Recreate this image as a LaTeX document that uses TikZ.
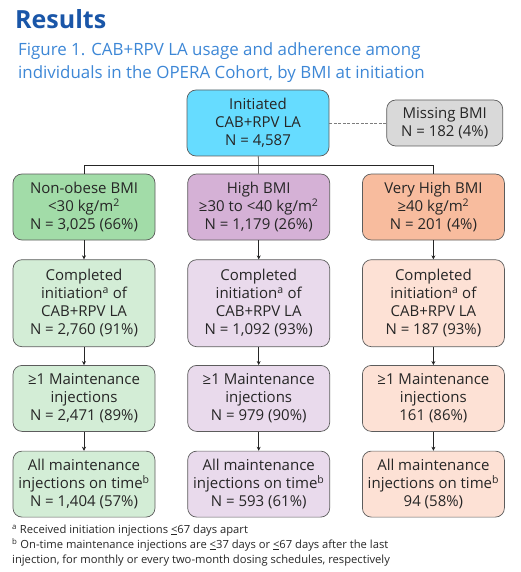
\documentclass[tikz,border=0pt]{standalone}
\usepackage{fontspec}
\setmainfont{Open Sans}
\usepackage{xcolor}
\usetikzlibrary{positioning,arrows.meta}
\definecolor{titleblue}{HTML}{1A56A8}
\definecolor{subblue}{HTML}{3D87D6}
\definecolor{cyanbox}{HTML}{66DCFF}
\definecolor{graybox}{HTML}{D9D9D9}
\definecolor{greendark}{HTML}{A2DCA8}
\definecolor{greenlight}{HTML}{D3EDD6}
\definecolor{purpledark}{HTML}{D5B1D6}
\definecolor{purplelight}{HTML}{E9DAEC}
\definecolor{orangedark}{HTML}{F8BC9E}
\definecolor{orangelight}{HTML}{FDE1D5}
\definecolor{boxline}{HTML}{5C5C5C}
\definecolor{textgray}{HTML}{262626}
\newcommand{\sq}{\textsuperscript{2}}
\newcommand{\fna}{\textsuperscript{a}}
\newcommand{\fnb}{\textsuperscript{b}}

\begin{document}
\begin{tikzpicture}[x=1pt, y=-1pt,
  font=\fontsize{15}{18}\selectfont, text=textgray,
  box/.style={draw=boxline, rounded corners=9pt, align=center, inner xsep=2pt, inner ysep=2pt, minimum width=142pt, minimum height=66pt, line width=0.7pt},
  arr/.style={-{Stealth[length=4pt,width=4pt]}, line width=0.6pt, draw=textgray},
  tree/.style={line width=0.6pt, draw=textgray},
  foot/.style={anchor=base west, inner sep=0pt, font=\fontsize{11.2}{14}\selectfont},
  node distance=19pt and 32pt]
\useasboundingbox (0,0) rectangle (520,572);
% heading
\node[anchor=base west, inner sep=0pt, text=titleblue, font=\fontsize{25}{30}\selectfont\bfseries] (title) at (15,29) {Results};
\node[anchor=base west, inner sep=0pt, text=subblue, font=\fontsize{16.9}{22}\selectfont] (sub1) at (18,56) {Figure 1. CAB+RPV LA usage and adherence among};
\node[anchor=base west, inner sep=0pt, text=subblue, font=\fontsize{16.9}{22}\selectfont] (sub2) at (18,79) {individuals in the OPERA Cohort, by BMI at initiation};
% top of the tree
\node[box, fill=cyanbox] (init) at (258,123) {Initiated\\CAB+RPV LA\\N = 4,587};
\node[box, fill=graybox, minimum width=116pt, minimum height=46pt, right=57pt of init] (missing) {Missing BMI\\N = 182 (4\%)};
% BMI groups
\node[box, fill=greendark] (nonobese) at (84,207) {Non-obese BMI\\<30 kg/m\sq\\N = 3,025 (66\%)};
\node[box, fill=purpledark, right=of nonobese] (high) {High BMI\\≥30 to <40 kg/m\sq\\N = 1,179 (26\%)};
\node[box, fill=orangedark, right=of high] (vhigh) {Very High BMI\\≥40 kg/m\sq\\N = 201 (4\%)};
% completed initiation
\node[box, fill=greenlight, minimum height=87pt, below=of nonobese] (ncomp) {Completed\\initiation\fna{} of\\CAB+RPV LA\\N = 2,760 (91\%)};
\node[box, fill=purplelight, minimum height=87pt, below=of high] (hcomp) {Completed\\initiation\fna{} of\\CAB+RPV LA\\N = 1,092 (93\%)};
\node[box, fill=orangelight, minimum height=87pt, below=of vhigh] (vcomp) {Completed\\initiation\fna{} of\\CAB+RPV LA\\N = 187 (93\%)};
% maintenance
\node[box, fill=greenlight, below=18pt of ncomp] (nmaint) {≥1 Maintenance\\injections\\N = 2,471 (89\%)};
\node[box, fill=purplelight, below=18pt of hcomp] (hmaint) {≥1 Maintenance\\injections\\N = 979 (90\%)};
\node[box, fill=orangelight, below=18pt of vcomp] (vmaint) {≥1 Maintenance\\injections\\161 (86\%)};
% on time
\node[box, fill=greenlight, below=of nmaint] (nontime) {All maintenance\\injections on time\fnb\\N = 1,404 (57\%)};
\node[box, fill=purplelight, below=of hmaint] (hontime) {All maintenance\\injections on time\fnb\\N = 593 (61\%)};
\node[box, fill=orangelight, below=of vmaint] (vontime) {All maintenance\\injections on time\fnb\\94 (58\%)};
% connectors
\coordinate (split) at ([yshift=-9pt]init.south);
\draw[tree] (init) -- (high);
\draw[tree] (nonobese.north) |- (split) -| (vhigh.north);
\draw[boxline!80, line width=0.6pt, dash pattern=on 3pt off 1.5pt] (init) -- (missing);
\foreach \c in {n,h,v}{
  \draw[arr] (\c comp) -- (\c maint);
  \draw[arr] (\c maint) -- (\c ontime);
}
\draw[arr] (nonobese) -- (ncomp);
\draw[arr] (high) -- (hcomp);
\draw[arr] (vhigh) -- (vcomp);
% footnotes
\node[foot] (fa) at (12,533) {\fna{} Received initiation injections \underline{<}67 days apart};
\node[foot] (fb) at (12,548) {\fnb{} On-time maintenance injections are \underline{<}37 days or \underline{<}67 days after the last};
\node[foot] (fc) at (12,563) {injection, for monthly or every two-month dosing schedules, respectively};
\end{tikzpicture}
\end{document}
